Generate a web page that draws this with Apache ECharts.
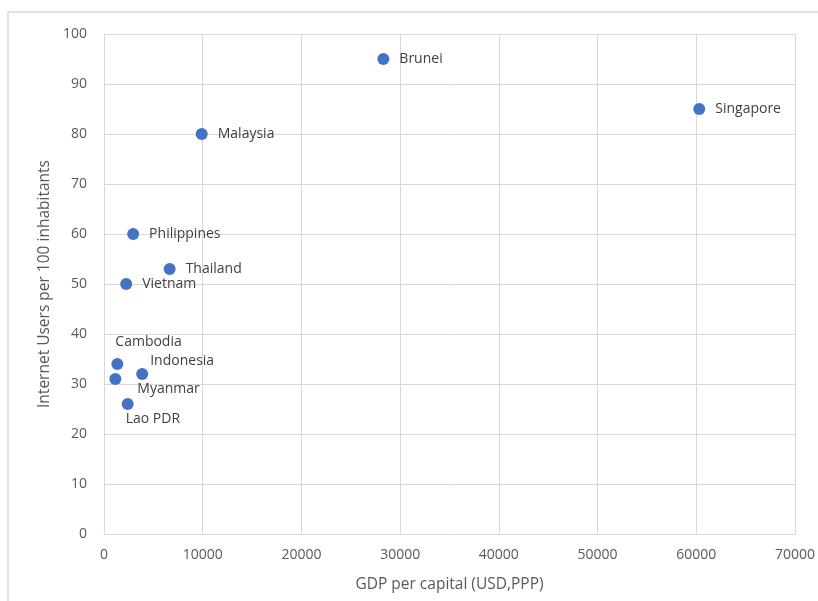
<!DOCTYPE html>
<html>
<head>
<meta charset="utf-8">
<script src="https://cdn.jsdelivr.net/npm/echarts@6/dist/echarts.min.js"></script>
<style>html,body{margin:0;padding:0;background:#fff;overflow:hidden}#c{width:818px;height:601px}</style>
</head>
<body>
<div id="c"></div>
<script>
const countries = ["Brunei","Singapore","Malaysia","Philippines","Thailand","Vietnam","Cambodia","Indonesia","Myanmar","Lao PDR"];
const gdpPerCapita = [28300, 60300, 9900, 2950, 6650, 2250, 1350, 3870, 1150, 2400];
const internetUsers = [95, 85, 80, 60, 53, 50, 34, 32, 31, 26];
const labelOffsets = {
  "Cambodia": [-18, -22],
  "Indonesia": [-8, -13],
  "Myanmar": [6, 10],
  "Lao PDR": [-18, 15]
};

const chart = echarts.init(document.getElementById('c'), null, {renderer: 'canvas', width: 818, height: 601});
const font = '"Open Sans", "Noto Sans", sans-serif';
const data = countries.map((name, i) => {
  const d = {name: name, value: [gdpPerCapita[i], internetUsers[i]]};
  if (labelOffsets[name]) d.label = {offset: labelOffsets[name]};
  return d;
});

chart.setOption({
  animation: false,
  backgroundColor: '#fff',
  graphic: [{
    type: 'rect',
    shape: {x: 8, y: 12, width: 830, height: 610},
    style: {fill: 'none', stroke: '#d9d9d9', lineWidth: 1.5},
    silent: true
  }],
  grid: {left: 104, right: 19, top: 34, bottom: 67, containLabel: false},
  xAxis: {
    type: 'value', min: 0, max: 70000, interval: 10000,
    name: 'GDP per capital (USD,PPP)', nameLocation: 'middle', nameGap: 43,
    nameTextStyle: {color: '#595959', fontSize: 15.5, fontFamily: font},
    axisLine: {show: true, lineStyle: {color: '#d9d9d9'}},
    axisTick: {show: false},
    axisLabel: {color: '#595959', fontSize: 14, fontFamily: font, margin: 14, formatter: v => String(v)},
    splitLine: {show: true, lineStyle: {color: '#d9d9d9'}}
  },
  yAxis: {
    type: 'value', min: 0, max: 100, interval: 10,
    name: 'Internet Users per 100 inhabitants', nameLocation: 'middle', nameGap: 48,
    nameTextStyle: {color: '#595959', fontSize: 15.5, fontFamily: font},
    axisLine: {show: false},
    axisTick: {show: false},
    axisLabel: {color: '#595959', fontSize: 14, fontFamily: font, margin: 17},
    splitLine: {show: true, lineStyle: {color: '#d9d9d9'}}
  },
  series: [{
    type: 'scatter',
    symbolSize: 12,
    itemStyle: {color: '#4472C4', opacity: 1},
    label: {
      show: true, position: 'right', distance: 10,
      formatter: '{b}', color: '#404040', fontSize: 14, fontFamily: font
    },
    data: data
  }]
});
</script>
</body>
</html>
